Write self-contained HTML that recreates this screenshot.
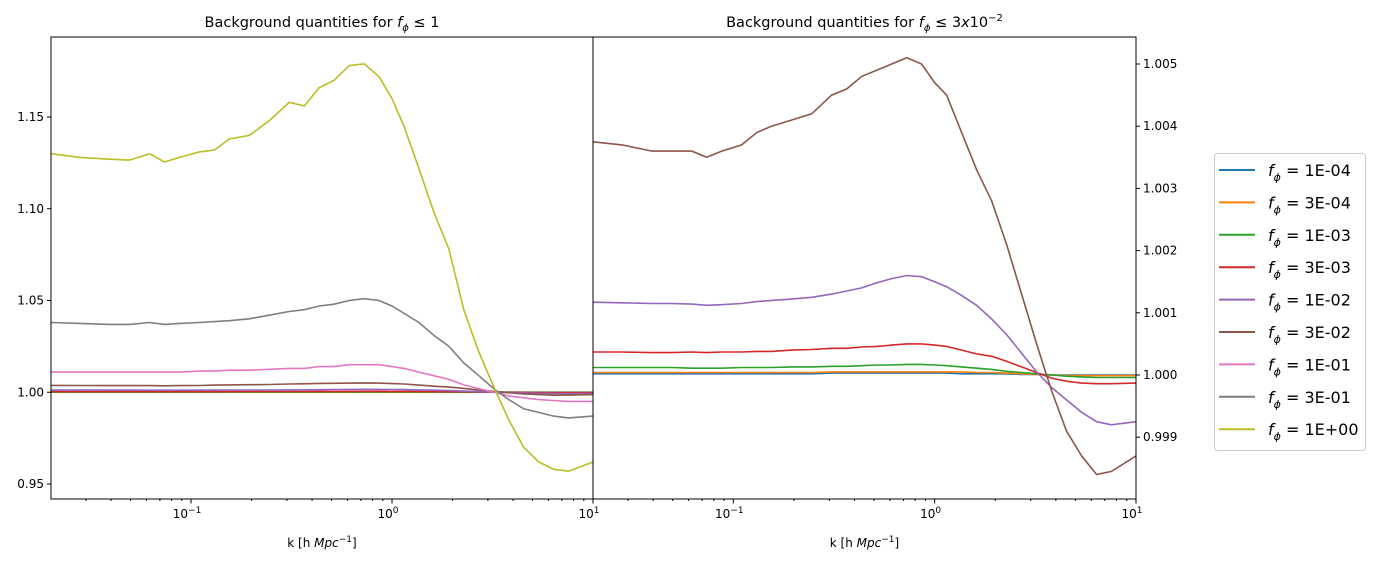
<!DOCTYPE html>
<html><head><meta charset="utf-8"><style>
body{margin:0;background:#fff;}
svg{display:block;font-family:"DejaVu Sans","Liberation Sans",sans-serif;}
</style></head><body>
<svg id="chart" width="1375" height="564">
<defs>
<clipPath id="clipL"><rect x="51" y="37" width="542" height="462"/></clipPath>
<clipPath id="clipR"><rect x="593" y="37" width="543" height="462"/></clipPath>
</defs>
<g id="left"></g>
<g id="right"></g>
<g id="legend"></g>
</svg>
<script>
const kValues=[0.0201,0.028,0.0394,0.0495,0.0622,0.0738,0.0877,0.110,0.131,0.155,0.195,0.245,0.308,0.366,0.434,0.515,0.612,0.726,0.861,1.0,1.147,1.361,1.616,1.918,2.277,2.702,3.207,3.806,4.518,5.37,6.37,7.55,10];
const seriesLabels=["1E-04","3E-04","1E-03","3E-03","1E-02","3E-02","1E-01","3E-01","1E+00"];
const s1e4=[1.00002,1.00002,1.00002,1.00002,1.00002,1.00002,1.00002,1.00002,1.00002,1.00002,1.00002,1.00002,1.00003,1.00003,1.00003,1.00003,1.00003,1.00003,1.00003,1.00003,1.00003,1.00002,1.00002,1.00002,1.00002,1.00001,1.00001,1.0,1.0,1.0,1.0,1.0,1.0];
const s3e4=[1.00004,1.00004,1.00004,1.00004,1.00004,1.00004,1.00004,1.00004,1.00004,1.00004,1.00004,1.00004,1.00005,1.00005,1.00005,1.00005,1.00005,1.00005,1.00005,1.00005,1.00005,1.00005,1.00004,1.00004,1.00003,1.00002,1.00001,1.0,0.99999,0.99999,0.99999,0.99999,0.99999];
const s1e3=[1.00012,1.00012,1.00012,1.00012,1.00011,1.00011,1.00011,1.00012,1.00012,1.00012,1.00013,1.00013,1.00014,1.00014,1.00015,1.00016,1.00016,1.00017,1.00017,1.00016,1.00015,1.00013,1.00011,1.00009,1.00006,1.00004,1.00002,1.0,0.99998,0.99997,0.99996,0.99996,0.99996];
const s3e3=[1.00037,1.00037,1.00036,1.00036,1.00037,1.00036,1.00037,1.00037,1.00038,1.00038,1.0004,1.00041,1.00043,1.00043,1.00045,1.00046,1.00048,1.0005,1.0005,1.00048,1.00046,1.0004,1.00034,1.0003,1.00022,1.00013,1.00004,0.99995,0.9999,0.99987,0.99986,0.99986,0.99987];
const s1e2=[1.00117,1.00116,1.00115,1.00115,1.00114,1.00112,1.00113,1.00115,1.00118,1.0012,1.00122,1.00125,1.0013,1.00135,1.0014,1.00148,1.00155,1.0016,1.00158,1.0015,1.00142,1.00128,1.00112,1.0009,1.00065,1.00035,1.00005,0.9998,0.9996,0.9994,0.99925,0.9992,0.99925];
const s3e2=[1.00375,1.0037,1.0036,1.0036,1.0036,1.0035,1.0036,1.0037,1.0039,1.004,1.0041,1.0042,1.0045,1.0046,1.0048,1.0049,1.005,1.0051,1.005,1.0047,1.0045,1.0039,1.0033,1.0028,1.0021,1.0013,1.0005,0.99975,0.9991,0.9987,0.9984,0.99845,0.9987];
const s1e1=[1.011,1.011,1.011,1.011,1.011,1.011,1.011,1.0115,1.0115,1.012,1.012,1.0125,1.013,1.013,1.014,1.014,1.015,1.015,1.015,1.014,1.013,1.011,1.009,1.007,1.004,1.002,1.0,0.998,0.997,0.996,0.9955,0.995,0.995];
const s3e1=[1.038,1.0375,1.037,1.037,1.038,1.037,1.0375,1.038,1.0385,1.039,1.04,1.042,1.044,1.045,1.047,1.048,1.05,1.051,1.05,1.047,1.043,1.038,1.031,1.025,1.016,1.009,1.002,0.996,0.991,0.989,0.987,0.986,0.987];
const s1e0=[1.13,1.128,1.127,1.1265,1.13,1.1255,1.128,1.131,1.132,1.138,1.14,1.148,1.158,1.156,1.166,1.17,1.178,1.179,1.172,1.16,1.145,1.122,1.098,1.078,1.045,1.022,1.003,0.985,0.97,0.962,0.958,0.957,0.962];
const allSeries=[s1e4,s3e4,s1e3,s3e3,s1e2,s3e2,s1e1,s3e1,s1e0];
const colors=["#1f77b4","#ff7f0e","#2ca02c","#d62728","#9467bd","#8c564b","#e377c2","#7f7f7f","#bcbd22"];
const leftTicks=[0.95,1.00,1.05,1.10,1.15];
const leftTickLabels=["0.95","1.00","1.05","1.10","1.15"];
const rightTicks=[0.999,1.000,1.001,1.002,1.003,1.004,1.005];
const rightTickLabels=["0.999","1.000","1.001","1.002","1.003","1.004","1.005"];
const xTicks=[0.1,1,10];

const NS="http://www.w3.org/2000/svg";
function mk(tag,attrs,parent){const e=document.createElementNS(NS,tag);for(const k in attrs)e.setAttribute(k,attrs[k]);parent.appendChild(e);return e;}
function xScale(x0,x1){const a=Math.log10(0.0201),b=1;return k=>x0+(Math.log10(k)-a)/(b-a)*(x1-x0);}
function yScale(v0,v1,p0,p1){return v=>p0+(v-v0)/(v1-v0)*(p1-p0);}

function panel(g,x0,x1,ys,ticks,tickLabels,nSeries,clip,side,title){
  const xs=xScale(x0,x1);
  for(let i=0;i<nSeries;i++){
    const d=kValues.map((k,j)=>(j?"L":"M")+xs(k).toFixed(1)+","+ys(allSeries[i][j]).toFixed(1)).join("");
    const p=mk("path",{d:d,fill:"none",stroke:colors[i],"stroke-width":1.6,"clip-path":"url(#"+clip+")"},g);
    
    
  }
  const fr=mk("rect",{x:x0,y:37,width:x1-x0,height:462,fill:"none",stroke:"#000","stroke-width":1},g);
  
  
  ticks.forEach((t,i)=>{
    const y=ys(t);
    const xa=side==="left"?x0:x1, dir=side==="left"?-1:1;
    mk("line",{x1:xa,x2:xa+dir*4,y1:y,y2:y,stroke:"#000"},g);
    const tx=mk("text",{x:xa+dir*7,y:y+4,"font-size":12,"text-anchor":side==="left"?"end":"start"},g);
    tx.textContent=tickLabels[i];
    
    
  });
  for(let dec=-2;dec<1;dec++)for(let m=2;m<10;m++){const k=m*Math.pow(10,dec);if(k<0.0201||k>10)continue;const x=xs(k);mk("line",{x1:x,x2:x,y1:499,y2:501,stroke:"#000"},g);}
  xTicks.forEach((t,i)=>{
    const x=xs(t);
    mk("line",{x1:x,x2:x,y1:499,y2:503.5,stroke:"#000"},g);
    const tx=mk("text",{x:x-4,y:518,"font-size":12,"text-anchor":"middle"},g);
    const e=Math.round(Math.log10(t));
    tx.innerHTML="10<tspan dy='-5' font-size='9'>"+(e<0?"−1":e)+"</tspan>";
    
    
  });
  const xl=mk("text",{x:(x0+x1)/2,y:547,"font-size":12,"text-anchor":"middle"},g);
  xl.innerHTML="k [h <tspan font-style='italic'>Mpc</tspan><tspan dy='-5' font-size='9'>−1</tspan><tspan dy='5'>]</tspan>";
  
  
  const tl=mk("text",{x:(x0+x1)/2,y:27,"font-size":14.5,"text-anchor":"middle"},g);
  tl.innerHTML=title;
  
  
}
panel(document.getElementById("left"),51,593,yScale(0.95,1.15,484,117),leftTicks,leftTickLabels,9,"clipL","left",
 "Background quantities for <tspan font-style='italic'>f</tspan><tspan dy='4' font-size='10' font-style='italic'>ϕ</tspan><tspan dy='-4'> ≤ 1</tspan>");
panel(document.getElementById("right"),593,1136,yScale(1.0,1.005,375,64),rightTicks,rightTickLabels,6,"clipR","right",
 "Background quantities for <tspan font-style='italic'>f</tspan><tspan dy='4' font-size='10' font-style='italic'>ϕ</tspan><tspan dy='-4'> ≤ 3</tspan><tspan font-style='italic'>x</tspan>10<tspan dy='-6' font-size='10'>−2</tspan>");

const lg=document.getElementById("legend");
mk("rect",{x:1214.5,y:153.5,width:151,height:297,rx:3,fill:"#fff",stroke:"#ccc"},lg);
seriesLabels.forEach((lab,i)=>{
  const y=170+i*32.4;
  const ln=mk("line",{x1:1219,x2:1255,y1:y,y2:y,stroke:colors[i],"stroke-width":2},lg);
  
  
  const t=mk("text",{x:1268,y:y+6,"font-size":16},lg);
  t.innerHTML="<tspan font-style='italic'>f</tspan><tspan dy='5' font-size='11' font-style='italic'>ϕ</tspan><tspan dy='-5'> = "+lab+"</tspan>";
  
  
});
</script>
</body></html>
